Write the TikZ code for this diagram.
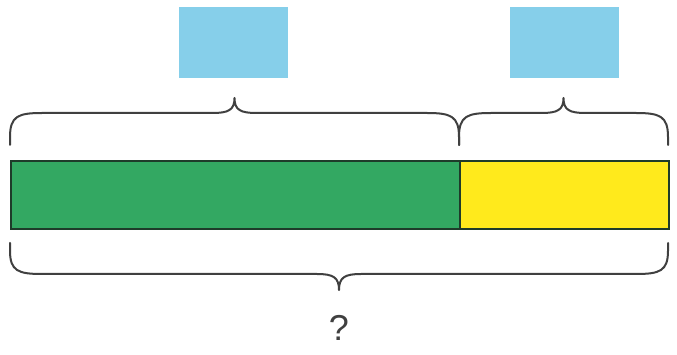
\documentclass[tikz,border=0pt]{standalone}
\usepackage{fontspec}
\setmainfont{Liberation Sans}
\definecolor{barGreen}{HTML}{33A862}
\definecolor{barYellow}{HTML}{FFEA1C}
\definecolor{boxBlue}{HTML}{86CFEA}
\definecolor{lineDark}{HTML}{404040}
\definecolor{edgeDark}{HTML}{1E3B2A}
\tikzset{
  x=1pt, y=-1pt,
  bracket/.style={draw=lineDark, line width=2pt, line cap=round, line join=round},
  blank/.style={fill=boxBlue, draw=none, minimum width=109pt, minimum height=71pt, inner sep=0pt},
  part/.style={draw=edgeDark, line width=2pt, inner sep=0pt, minimum height=68pt},
}
% horizontal curly bracket: #1 left x, #2 right x, #3 end y, #4 bar y, #5 tip y
\newcommand{\curlybrace}[5]{%
  \path[bracket] (#1,#3) -- (#1,{#3+0.25*(#4-#3)})
    .. controls (#1,{#4+0.1*(#3-#4)}) and ({#1+8},#4) .. ({#1+32},#4)
    -- ({(#1+#2)/2-22},#4)
    .. controls ({(#1+#2)/2-6},#4) and ({(#1+#2)/2},{#4+0.2*(#5-#4)}) .. ({(#1+#2)/2},#5)
    .. controls ({(#1+#2)/2},{#4+0.2*(#5-#4)}) and ({(#1+#2)/2+6},#4) .. ({(#1+#2)/2+22},#4)
    -- ({#2-32},#4)
    .. controls ({#2-8},#4) and (#2,{#4+0.1*(#3-#4)}) .. (#2,{#3+0.25*(#4-#3)}) -- (#2,#3);}
\begin{document}
\begin{tikzpicture}
\useasboundingbox (0,0) rectangle (677,355);
% unknown amounts
\node[blank] (b1) at (233.5,42.5) {};
\node[blank] (b2) at (564,42.5) {};
% the bar
\node[part, fill=barGreen, minimum width=449pt, anchor=north west] (g) at (10,160) {};
\node[part, fill=barYellow, minimum width=209pt, anchor=north west] (y) at (459,160) {};
% brackets
\curlybrace{10}{459}{145}{113}{98}
\curlybrace{459}{668}{145}{113}{98}
\curlybrace{10}{668}{243}{274}{290}
\node[text=lineDark, font=\fontsize{36}{40}\selectfont] (q) at (339,328) {?};
\end{tikzpicture}
\end{document}
